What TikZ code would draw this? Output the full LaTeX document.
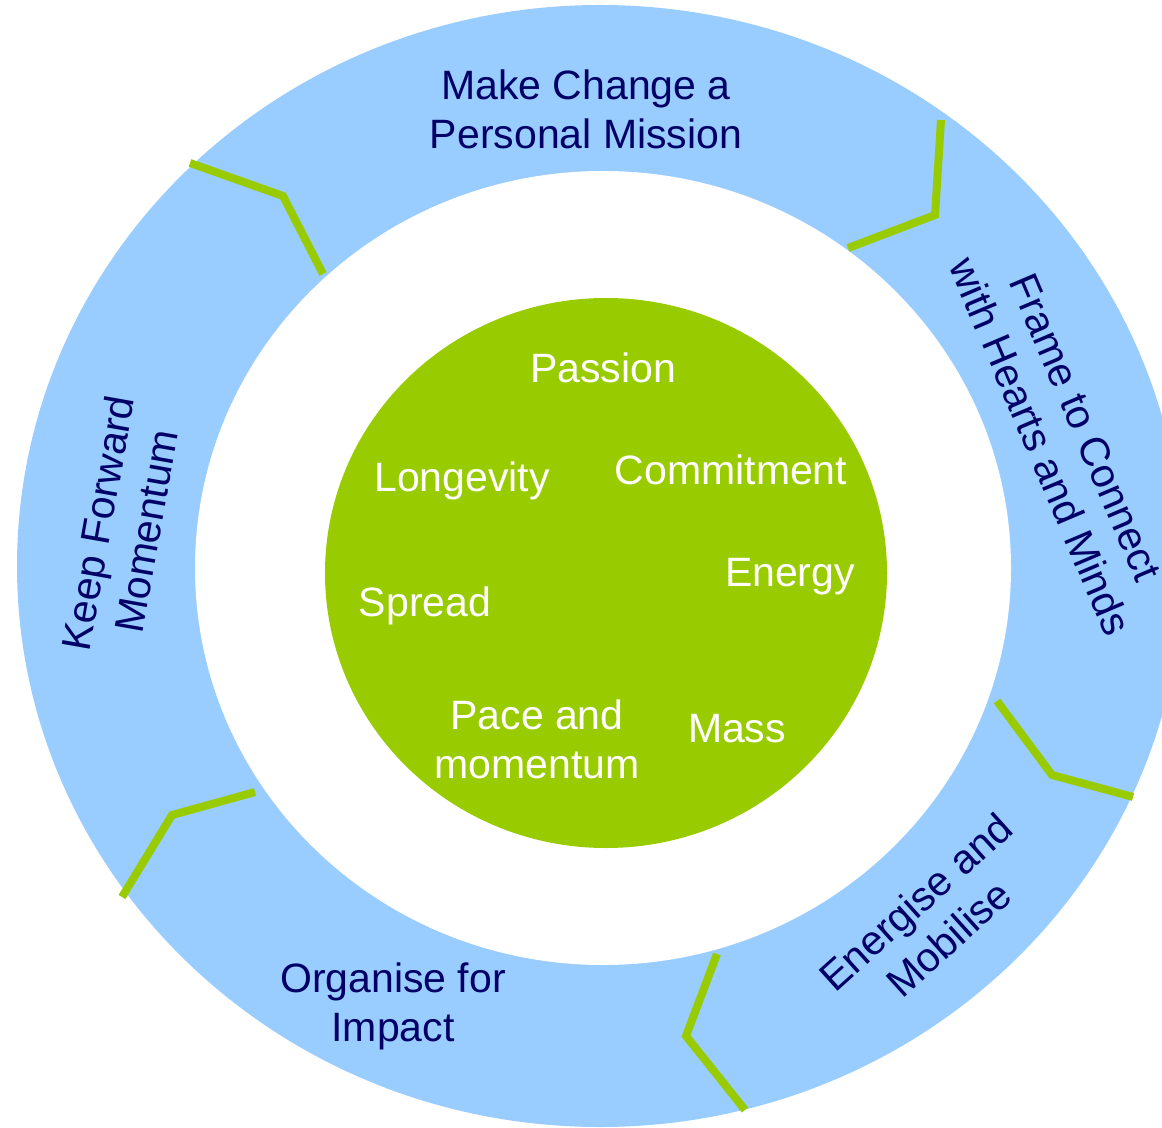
\documentclass[tikz,border=0pt]{standalone}
\usepackage{fontspec}
\setmainfont{Liberation Sans}
\usepackage{tikz}

\definecolor{ringblue}{RGB}{153,204,255}
\definecolor{leafgreen}{RGB}{153,204,0}
\definecolor{navy}{RGB}{0,0,102}

\begin{document}
\begin{tikzpicture}[x=0.5pt, y=-0.5pt,
    every node/.style={align=center, inner sep=0pt, font=\fontsize{20.5}{24.5}\selectfont},
    ringtext/.style={text=navy},
    hubtext/.style={text=white},
    chevron/.style={draw=leafgreen, line width=4pt}]
    \useasboundingbox (0,0) rectangle (1162,1128);
    \clip (0,0) rectangle (1162,1128);

    % ring and hub
    \fill[ringblue] (600,566) ellipse [x radius=583, y radius=561];
    \fill[white] (603,568) ellipse [x radius=408, y radius=397];
    \fill[leafgreen] (606,573) ellipse [x radius=281, y radius=275];

    % separators
    \draw[chevron] (190,163) -- (283,196) -- (323,274);
    \draw[chevron] (941,120) -- (935,215) -- (848,248);
    \draw[chevron] (997,701) -- (1052,775) -- (1133,797);
    \draw[chevron] (717,954) -- (686,1036) -- (745,1110);
    \draw[chevron] (255,792) -- (172,815) -- (122,897);

    % ring labels
    \node[ringtext] (mission) at (586,109) {Make Change a\\Personal Mission};
    \node[ringtext, rotate=-67] (frame) at (1063,437) {Frame to Connect\\with Hearts and Minds};
    \node[ringtext, rotate=42] (energise) at (932,920) {Energise and\\Mobilise};
    \node[ringtext] (organise) at (393,1006) {Organise for\\Impact};
    \node[ringtext, rotate=80] (momentum) at (122,527) {Keep Forward\\Momentum};

    % hub labels
    \node[hubtext] (passion) at (603,368) {Passion};
    \node[hubtext] (longevity) at (462,481) {Longevity};
    \node[hubtext] (commitment) at (731,470) {Commitment};
    \node[hubtext] (energy) at (790,577) {Energy};
    \node[hubtext] (spread) at (425,606) {Spread};
    \node[hubtext] (pace) at (537,739) {Pace and\\momentum};
    \node[hubtext] (mass) at (737,729) {Mass};
\end{tikzpicture}
\end{document}
